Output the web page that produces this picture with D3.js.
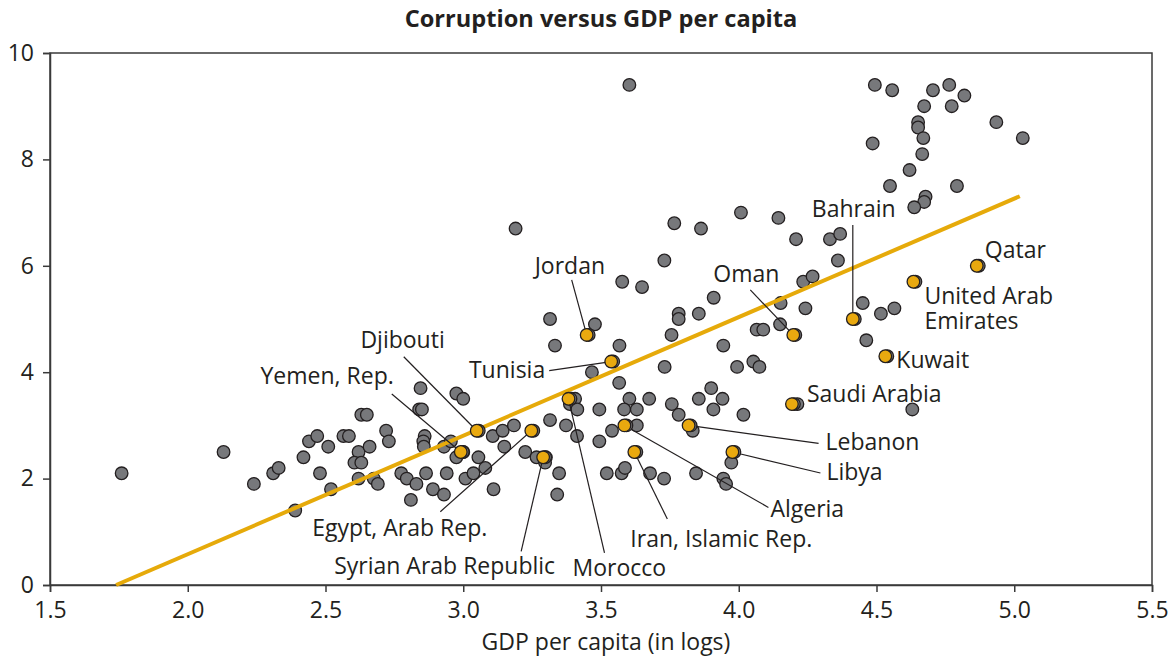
<!DOCTYPE html>
<html>
<head>
<meta charset="utf-8">
<script src="https://cdn.jsdelivr.net/npm/d3@7"></script>
<style>
  body { margin: 0; background: #fff; }
  text { font-family: "Open Sans", sans-serif; fill: #231f20; }
</style>
</head>
<body>
<svg id="chart" width="1170" height="662"></svg>
<script>
// GDP per capita (log10) and corruption index for all countries
const gdpAll = [1.76,2.13,2.24,2.31,2.33,2.39,2.42,2.44,2.47,2.48,2.51,2.52,2.565,2.585,2.62,2.605,2.63,2.63,2.65,2.62,2.66,2.675,2.69,2.72,2.73,2.775,2.795,2.81,2.83,2.845,2.84,2.85,2.86,2.855,2.857,2.865,2.89,2.93,2.94,2.93,2.955,2.975,3.0,2.975,3.0,3.008,3.037,3.055,3.08,3.11,3.107,3.143,3.149,3.184,3.225,3.266,3.30,3.297,3.315,3.348,3.341,3.373,3.393,3.406,3.387,3.414,3.413,3.467,3.566,3.494,3.494,3.54,3.521,3.575,3.587,3.603,3.675,3.584,3.63,3.757,3.782,3.63,3.833,3.678,3.729,3.845,3.944,3.954,3.973,4.213,4.63,3.9,3.855,3.941,3.908,4.017,3.731,3.994,4.053,4.075,3.567,3.944,3.756,4.065,4.089,4.15,3.782,3.782,3.855,4.242,4.152,3.315,3.478,3.333,3.577,3.649,3.909,3.73,3.19,3.766,3.863,4.008,4.144,4.208,4.331,4.368,4.36,4.234,4.268,4.45,4.516,4.565,4.463,3.603,4.494,4.557,4.705,4.764,4.819,4.673,4.773,4.651,4.651,4.67,4.935,5.031,4.486,4.666,4.62,4.549,4.792,4.678,4.673,4.637];
const cpiAll = [2.1,2.5,1.9,2.1,2.2,1.4,2.4,2.7,2.8,2.1,2.6,1.8,2.8,2.8,2.5,2.3,2.3,3.2,3.2,2.0,2.6,2.0,1.9,2.9,2.7,2.1,2.0,1.6,1.9,3.7,3.3,3.3,2.8,2.7,2.6,2.1,1.8,1.7,2.1,2.6,2.7,3.6,3.5,2.4,2.5,2.0,2.1,2.4,2.2,1.8,2.8,2.9,2.6,3.0,2.5,2.4,2.4,2.3,3.1,2.1,1.7,3.0,3.5,3.5,3.4,3.3,2.8,4.0,3.8,3.3,2.7,2.9,2.1,2.1,2.2,3.5,3.5,3.3,3.3,3.4,3.2,3.0,2.9,2.1,2.0,2.1,2.0,1.9,2.3,3.4,3.3,3.7,3.5,3.5,3.3,3.2,4.1,4.1,4.2,4.1,4.5,4.5,4.7,4.8,4.8,4.9,5.1,5.0,5.1,5.2,5.3,5.0,4.9,4.5,5.7,5.6,5.4,6.1,6.7,6.8,6.7,7.0,6.9,6.5,6.5,6.6,6.1,5.7,5.8,5.3,5.1,5.2,4.6,9.4,9.4,9.3,9.3,9.4,9.2,9.0,9.0,8.7,8.6,8.4,8.7,8.4,8.3,8.1,7.8,7.5,7.5,7.3,7.2,7.1];

// Middle East and North Africa
const menaNames = ["Jordan","Oman","Bahrain","Qatar","United Arab Emirates","Kuwait","Saudi Arabia","Lebanon","Libya","Algeria","Iran, Islamic Rep.","Morocco","Syrian Arab Republic","Egypt, Arab Rep.","Djibouti","Yemen, Rep.","Tunisia"];
const menaGdp = [3.448,4.198,4.414,4.864,4.634,4.532,4.193,3.818,3.977,3.585,3.621,3.382,3.290,3.247,3.049,2.991,3.537];
const menaCpi = [4.7,4.7,5.0,6.0,5.7,4.3,3.4,3.0,2.5,3.0,2.5,3.5,2.4,2.9,2.9,2.5,4.2];

// Fitted line
const fitIntercept = -3.877;
const fitSlope = 2.228;
const fitRange = [1.74, 5.02];

const xTicks = [1.5, 2.0, 2.5, 3.0, 3.5, 4.0, 4.5, 5.0, 5.5];
const yTicks = [0, 2, 4, 6, 8, 10];

const titleText = "Corruption versus GDP per capita";
const xTitle = "GDP per capita (in logs)";

// label placement (pixel offsets from each country's point)
const labelLayout = {
  "Jordan":               { dx: -52, dy: -61, anchor: "start", leader: [-15, -55] },
  "Oman":                 { dx: -80, dy: -53, anchor: "start", leader: [-43, -45] },
  "Bahrain":              { dx: -41, dy: -102, anchor: "start", leader: [0, -94] },
  "Qatar":                { dx: 8,   dy: -8,  anchor: "start" },
  "United Arab Emirates": { dx: 11,  dy: 22,  anchor: "start", lines: ["United Arab", "Emirates"] },
  "Kuwait":               { dx: 11,  dy: 12,  anchor: "start" },
  "Saudi Arabia":         { dx: 15,  dy: -2,  anchor: "start" },
  "Lebanon":              { dx: 137, dy: 25,  anchor: "start", leader: [130, 18] },
  "Libya":                { dx: 94,  dy: 28,  anchor: "start", leader: [88, 21] },
  "Algeria":              { dx: 146, dy: 92,  anchor: "start", leader: [144, 82] },
  "Iran, Islamic Rep.":   { dx: -4,  dy: 95,  anchor: "start", leader: [33, 67] },
  "Morocco":              { dx: 4,   dy: 177, anchor: "start", leader: [36, 154] },
  "Syrian Arab Republic": { dx: 12,  dy: 117, anchor: "end",   leader: [-22, 94] },
  "Egypt, Arab Rep.":     { dx: -44, dy: 105, anchor: "end",   leader: [-91, 81] },
  "Djibouti":             { dx: -32, dy: -83, anchor: "end",   leader: [-73, -74] },
  "Yemen, Rep.":          { dx: -67, dy: -68, anchor: "end",   leader: [-69, -58] },
  "Tunisia":              { dx: -66, dy: 16,  anchor: "end",   leader: [-62, 9] }
};

const W = 1170, H = 662;
const margin = { left: 50, right: 18, top: 53, bottom: 77 };
const ink = "#231f20";
const grayFill = "#77787b";
const goldFill = "#e9a90f";
const lineGold = "#e6aa0a";
const R = 6.3;

const svg = d3.select("#chart");

const x = d3.scaleLinear().domain([1.5, 5.5]).range([margin.left, W - margin.right]);
const y = d3.scaleLinear().domain([0, 10]).range([H - margin.bottom, margin.top]);

// frame
svg.append("rect")
  .attr("x", x(1.5)).attr("y", y(10))
  .attr("width", x(5.5) - x(1.5)).attr("height", y(0) - y(10))
  .attr("fill", "none").attr("stroke", "#3a3a3a").attr("stroke-width", 1.5);

// axes
const xAxis = svg.append("g")
  .attr("transform", `translate(0,${y(0)})`)
  .call(d3.axisBottom(x).tickValues(xTicks).tickFormat(d3.format(".1f")).tickSize(7).tickPadding(10));
const yAxis = svg.append("g")
  .attr("transform", `translate(${x(1.5)},0)`)
  .call(d3.axisLeft(y).tickValues(yTicks).tickFormat(d3.format("d")).tickSize(7).tickPadding(9));

[xAxis, yAxis].forEach(g => {
  g.select(".domain").attr("stroke", "#3a3a3a").attr("stroke-width", 1.5);
  g.selectAll(".tick line").attr("stroke", "#3a3a3a").attr("stroke-width", 1.5);
  g.selectAll(".tick text").attr("font-family", "Open Sans, sans-serif")
    .attr("font-size", 23).attr("fill", ink);
});

// title and axis title
svg.append("text")
  .attr("x", (x(1.5) + x(5.5)) / 2).attr("y", 27)
  .attr("text-anchor", "middle")
  .attr("font-weight", 700).attr("font-size", 23.6)
  .text(titleText);

svg.append("text")
  .attr("x", (x(1.5) + x(5.5)) / 2 + 5).attr("y", 650)
  .attr("text-anchor", "middle")
  .attr("font-size", 23)
  .text(xTitle);

// gray points
svg.append("g").selectAll("circle")
  .data(d3.range(gdpAll.length))
  .join("circle")
  .attr("cx", i => x(gdpAll[i]))
  .attr("cy", i => y(cpiAll[i]))
  .attr("r", R)
  .attr("fill", grayFill)
  .attr("stroke", ink).attr("stroke-width", 1.3);

// fitted line
svg.append("line")
  .attr("x1", x(fitRange[0])).attr("y1", y(fitIntercept + fitSlope * fitRange[0]))
  .attr("x2", x(fitRange[1])).attr("y2", y(fitIntercept + fitSlope * fitRange[1]))
  .attr("stroke", lineGold).attr("stroke-width", 4);

const mena = menaNames.map((name, i) => ({
  name, px: x(menaGdp[i]), py: y(menaCpi[i]), lay: labelLayout[name]
}));

// leader lines
svg.append("g").selectAll("line")
  .data(mena.filter(d => d.lay.leader))
  .join("line")
  .attr("x1", d => d.px + d.lay.leader[0])
  .attr("y1", d => d.py + d.lay.leader[1])
  .attr("x2", d => d.px).attr("y2", d => d.py)
  .attr("stroke", ink).attr("stroke-width", 1.2);

// highlighted points: gray backing with gold marker on top
const hg = svg.append("g");
hg.selectAll("circle.back")
  .data(mena).join("circle")
  .attr("class", "back")
  .attr("cx", d => d.px + 2).attr("cy", d => d.py)
  .attr("r", R).attr("fill", grayFill)
  .attr("stroke", ink).attr("stroke-width", 1.3);
hg.selectAll("circle.front")
  .data(mena).join("circle")
  .attr("class", "front")
  .attr("cx", d => d.px).attr("cy", d => d.py)
  .attr("r", R).attr("fill", goldFill)
  .attr("stroke", ink).attr("stroke-width", 1.3);

// country labels
const lg = svg.append("g");
mena.forEach(d => {
  const lines = d.lay.lines || [d.name];
  const t = lg.append("text")
    .attr("text-anchor", d.lay.anchor)
    .attr("font-size", 23);
  lines.forEach((s, k) => {
    t.append("tspan")
      .attr("x", d.px + d.lay.dx)
      .attr("y", d.py + d.lay.dy + k * 25)
      .text(s);
  });
});
</script>
</body>
</html>
